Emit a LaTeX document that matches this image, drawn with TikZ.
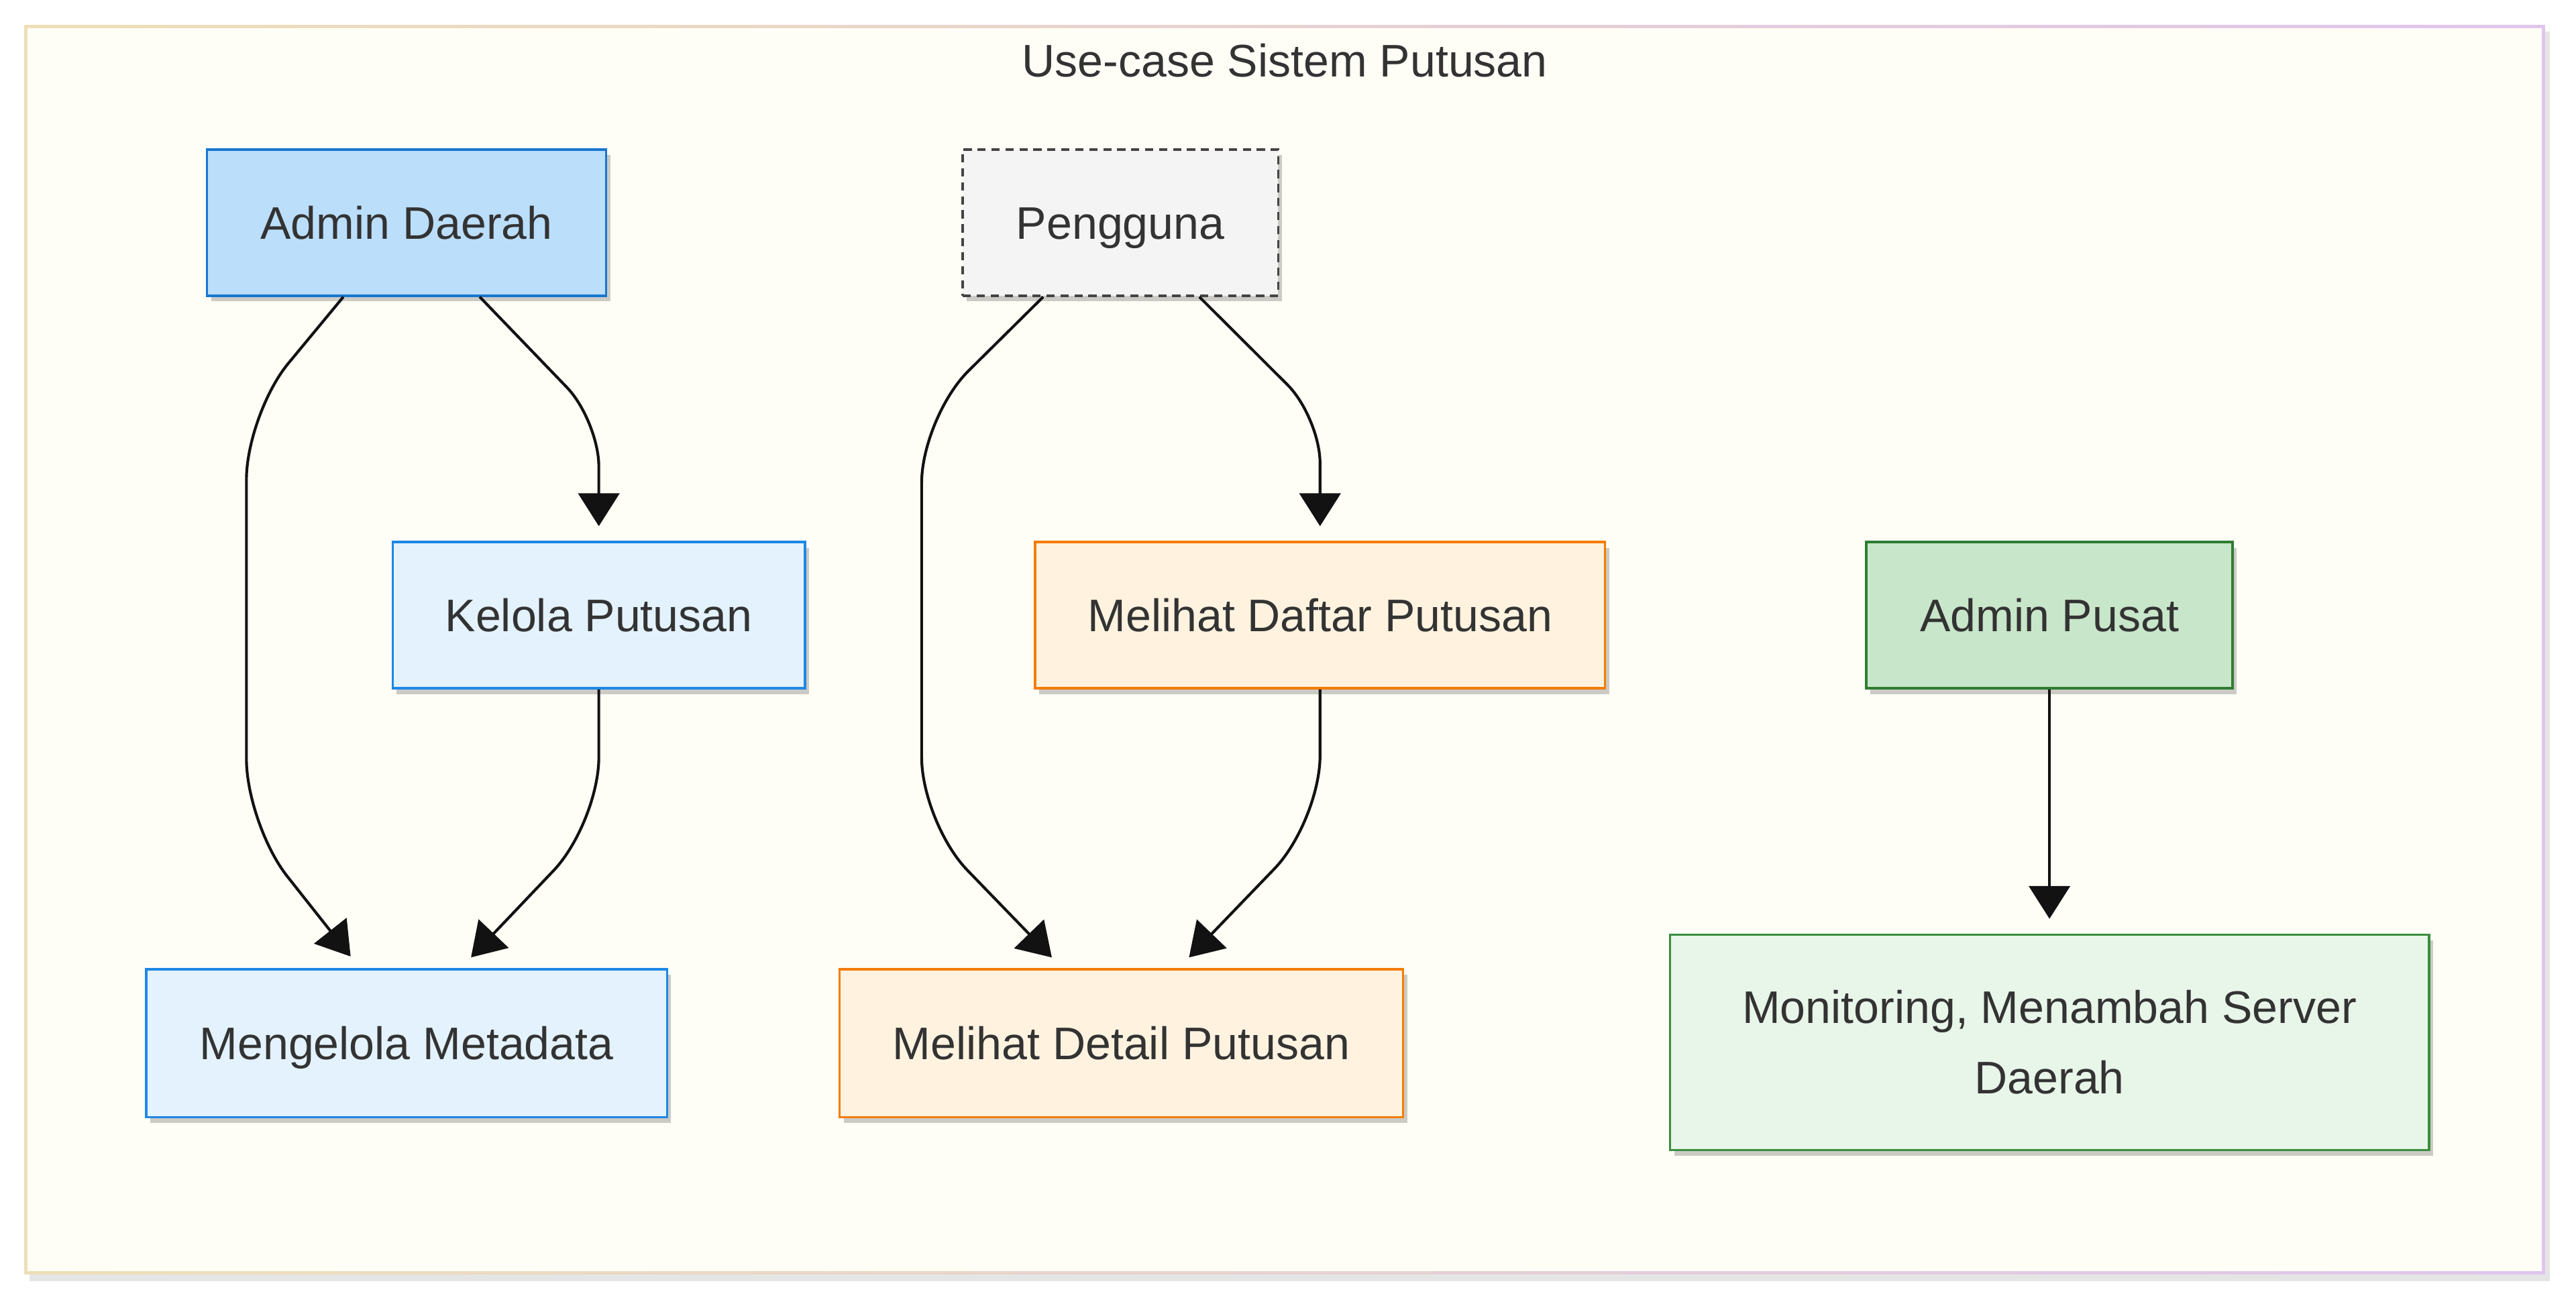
\documentclass[tikz,border=0pt]{standalone}
\usepackage{fontspec}
\setmainfont{Liberation Sans}
\usetikzlibrary{arrows.meta,shadows}

\definecolor{bgfill}{HTML}{FEFDF6}
\definecolor{frameleft}{HTML}{EEDFB8}
\definecolor{frameright}{HTML}{E0C5EC}
\definecolor{txt}{HTML}{333333}
\definecolor{adfill}{HTML}{BBDEFB}
\definecolor{addraw}{HTML}{1976D2}
\definecolor{blfill}{HTML}{E3F2FD}
\definecolor{bldraw}{HTML}{1E88E5}
\definecolor{pgfill}{HTML}{F4F4F5}
\definecolor{pgdraw}{HTML}{444444}
\definecolor{orfill}{HTML}{FFF3E0}
\definecolor{ordraw}{HTML}{F57C00}
\definecolor{apfill}{HTML}{C8E6C9}
\definecolor{apdraw}{HTML}{2E7D32}
\definecolor{gnfill}{HTML}{E8F5E9}
\definecolor{gndraw}{HTML}{388E3C}

\begin{document}
\begin{tikzpicture}[x=1pt,y=1pt,
    every node/.style={inner sep=0pt, text=txt, font=\fontsize{27.8}{43}\selectfont},
    box/.style={rectangle, line width=1.4pt, align=center,
        drop shadow={shadow xshift=2.5pt, shadow yshift=-3.5pt, fill=black, opacity=0.2}},
    oneline/.style={box, text height=20pt, text depth=0pt},
    link/.style={line width=1.7pt, draw=black!93, -{Triangle[length=20pt,width=25pt]}, shorten >=9pt}]
            \useasboundingbox (0,0) rectangle (1568,-793.4);
            % frame
            \fill [black, opacity=0.1] (18,-19) rectangle (1552,-780);
            \shade [left color=frameleft, right color=frameright] (15,-15.5) rectangle (1549,-775.5);
            \fill [bgfill] (16.7,-17.2) rectangle (1547.3,-773.8);
            \node (title) at (782,-37) {Use-case Sistem Putusan};
            % actors and use cases
            \node [oneline, fill=adfill, draw=addraw, minimum width=243pt, minimum height=89pt] (ad) at (247.5,-135.5) {Admin Daerah};
            \node [oneline, fill=pgfill, draw=pgdraw, dashed, dash pattern=on 5pt off 3.5pt, minimum width=192pt, minimum height=89pt] (pg) at (682,-135.5) {Pengguna};
            \node [oneline, fill=blfill, draw=bldraw, minimum width=251pt, minimum height=89pt] (ku) at (364.5,-374.5) {Kelola Putusan};
            \node [oneline, fill=orfill, draw=ordraw, minimum width=347pt, minimum height=89pt] (md) at (803.5,-374.5) {Melihat Daftar Putusan};
            \node [oneline, fill=apfill, draw=apdraw, minimum width=223pt, minimum height=89pt] (ap) at (1247.5,-374.5) {Admin Pusat};
            \node [oneline, fill=blfill, draw=bldraw, minimum width=317pt, minimum height=90pt] (mm) at (247.5,-635) {Mengelola Metadata};
            \node [oneline, fill=orfill, draw=ordraw, minimum width=343pt, minimum height=90pt] (mdt) at (682.5,-635) {Melihat Detail Putusan};
            \node [box, fill=gnfill, draw=gndraw, minimum width=462pt, minimum height=131pt] (mon) at (1247.5,-634.5) {Monitoring, Menambah Server\\Daerah};
            % links
            \draw [link, rounded corners=28pt] ([xshift=44.5pt]ad.south) -- (364.5,-256) -- (ku.north);
            \draw [link, rounded corners=40pt] ([xshift=-38.5pt]ad.south) -- (150,-252) -- (150,-502) -- ([xshift=-28.5pt]mm.north);
            \draw [link, rounded corners=40pt] (ku.south) -- (364.5,-501) -- ([xshift=33pt]mm.north);
            \draw [link, rounded corners=28pt] ([xshift=48pt]pg.south) -- (803.5,-254) -- (md.north);
            \draw [link, rounded corners=40pt] ([xshift=-47pt]pg.south) -- (561,-254) -- (561,-501) -- ([xshift=-36pt]mdt.north);
            \draw [link, rounded corners=40pt] (md.south) -- (803.5,-500) -- ([xshift=35pt]mdt.north);
            \draw [link] (ap.south) -- (mon.north);
\end{tikzpicture}
\end{document}
